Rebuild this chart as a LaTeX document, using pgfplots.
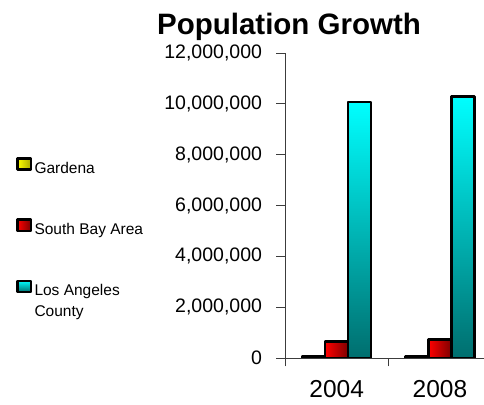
\documentclass[border=0pt]{standalone}
\usepackage{fontspec}
\setmainfont{Liberation Sans}
\usepackage{pgfplots}
\pgfplotsset{compat=1.18}
\definecolor{teal2}{RGB}{0,110,110}
\definecolor{dred}{RGB}{125,0,0}
\definecolor{dyel}{RGB}{170,170,0}
\definecolor{axgray}{RGB}{60,60,60}
\pgfplotsset{
  gard/.style={fill=yellow, left color=yellow, right color=dyel, bar shift=-23bp},
  sbay/.style={fill=red, left color=red, right color=dred, bar shift=0bp},
  lacy/.style={fill=cyan, top color=cyan, bottom color=teal2, bar shift=23bp},
}
\begin{document}
\begin{tikzpicture}
\begin{axis}[
  at={(285bp,47bp)}, anchor=south west,
  scale only axis, width=206.6bp, height=305bp,
  xmin=-0.5, xmax=1.5, ymin=0, ymax=12000000,
  axis lines=left, axis line style={-, axgray, line width=0.8bp},
  ybar=0pt, bar width=23bp,
  xtick={-0.5,0.5,1.5}, x tick label as interval, xticklabels={2004,2008},
  ytick={0,2000000,4000000,6000000,8000000,10000000,12000000},
  scaled y ticks=false,
  tick align=outside, major tick length=8.5bp,
  tick style={axgray, line width=0.8bp},
  y tick label style={font=\fontsize{19.5bp}{23bp}\selectfont, /pgf/number format/fixed, /pgf/number format/1000 sep={,}, /pgf/number format/assume math mode=true, xshift=-11bp},
  x tick label style={font=\fontsize{24.5bp}{28bp}\selectfont, yshift=-13bp, inner sep=1bp},
  every axis plot/.append style={line width=2.6bp, draw=black, line join=round},
  legend style={at={(-1.3008,0.659)}, anchor=north west, draw=none, fill=none,
    font=\fontsize{15.5bp}{21bp}\selectfont, row sep=41bp, inner sep=0pt, outer sep=0pt,
    nodes={inner sep=0pt, text height=11bp, text depth=4bp},
    /tikz/every odd column/.style={column sep=2.25bp}},
  legend cell align=left,
  legend image code/.code={\draw[#1, line width=2.5bp, draw=black] (0bp,0.25bp) rectangle (13.5bp,11.5bp);},
]
\addplot[gard] coordinates {(0,60000)};
\addlegendentry{Gardena}
\addplot[sbay] coordinates {(0,650000)};
\addlegendentry{South Bay Area}
\addplot[lacy] coordinates {(0,10070000)};
\addlegendentry{\begin{tabular}[t]{@{}l@{}}Los Angeles\\County\end{tabular}}
\addplot[gard, forget plot] coordinates {(1,61000)};
\addplot[sbay, forget plot] coordinates {(1,730000)};
\addplot[lacy, forget plot] coordinates {(1,10290000)};
\end{axis}
\node[font=\bfseries\fontsize{29.5bp}{34bp}\selectfont, anchor=base] at (289bp,370bp) {Population Growth};
\pgfresetboundingbox
\path (0,0) rectangle (484bp,405bp);
\end{tikzpicture}
\end{document}
